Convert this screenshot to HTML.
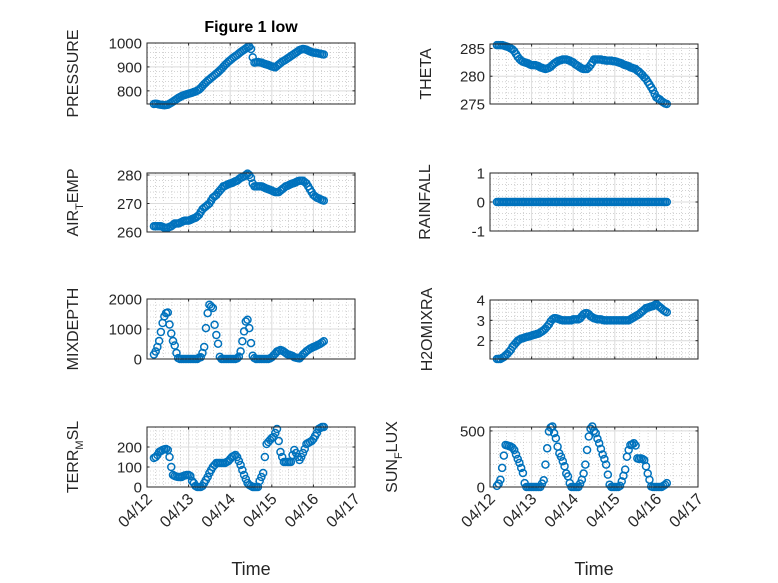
<!DOCTYPE html>
<html><head><meta charset="utf-8"><style>
body{margin:0;background:#fff}
svg{display:block;font-family:"Liberation Sans","DejaVu Sans",sans-serif}
</style></head><body>
<svg id="fig" width="778" height="583" viewBox="0 0 778 583">
<rect width="778" height="583" fill="#fff"/>
<text x="251" y="32" text-anchor="middle" font-size="16" font-weight="bold" fill="#000">Figure 1 low</text>
</svg>
<script>
const startHour=4, stepHour=1;
const xTickLabels=["04/12","04/13","04/14","04/15","04/16","04/17"];
const pressure=[745,746,745,743,742,741,740,741,742,746,
750,755,760,765,770,774,778,781,783,786,
788,790,792,795,797,801,805,812,820,828,
835,842,848,854,860,866,872,878,885,892,
900,908,915,922,928,934,940,945,950,956,
962,967,972,977,982,985,975,940,918,919,
920,919,918,915,912,910,908,905,902,900,
898,904,910,916,922,926,930,935,940,945,
950,955,960,965,970,973,975,974,972,968,
965,962,960,959,958,956,955,953,952];
const theta=[285.6,285.6,285.6,285.6,285.5,285.4,285.3,285.2,285.0,284.8,
284.5,284.0,283.5,283.1,282.8,282.6,282.5,282.4,282.3,282.1,
282.0,282.0,282.0,281.9,281.8,281.6,281.5,281.4,281.3,281.4,
281.5,281.7,282.0,282.3,282.5,282.7,282.8,282.9,283.0,283.0,
283.0,282.9,282.8,282.6,282.5,282.2,282.0,281.8,281.6,281.4,
281.3,281.3,281.3,281.6,282.0,282.5,283.0,283.0,283.0,283.0,
283.0,282.9,282.9,282.8,282.8,282.8,282.8,282.7,282.7,282.6,
282.5,282.4,282.3,282.1,282.0,281.9,281.8,281.6,281.5,281.4,
281.3,281.0,280.8,280.5,280.2,279.8,279.5,279.0,278.5,278.0,
277.5,276.8,276.2,276.0,275.8,275.5,275.3,275.1,275.0];
const airTemp=[262,262,262,262,262,261.8,261.5,261.5,261.5,261.8,
262,262.5,263,263,263,263.2,263.5,263.8,264,264,
264,264.2,264.5,264.8,265,265.5,266,267,268,268.5,
269,269.5,270,271,272,272.5,273,273.8,274.5,275.2,
276,276.2,276.5,276.8,277,277.2,277.5,277.8,278,278.5,
279,279.2,279.5,280,280.5,280,279,277,276,276,
276,276,276,275.8,275.5,275.2,275,274.8,274.5,274.2,
274,274,274,274.5,275,275.5,276,276.2,276.5,276.8,
277,277.2,277.5,277.8,278,278,278,277.5,277,276,
275,274,273,272.5,272,271.8,271.5,271.2,271];
const rainfall=[0,0,0,0,0,0,0,0,0,0, 0,0,0,0,0,0,0,0,0,0, 0,0,0,0,0,0,0,0,0,0, 0,0,0,0,0,0,0,0,0,0, 0,0,0,0,0,0,0,0,0,0, 0,0,0,0,0,0,0,0,0,0, 0,0,0,0,0,0,0,0,0,0, 0,0,0,0,0,0,0,0,0,0, 0,0,0,0,0,0,0,0,0,0, 0,0,0,0,0,0,0,0,0];
const mixDepth=[150,250,400,600,900,1200,1420,1530,1550,1150,
850,600,450,200,30,0,0,0,0,0,
0,0,0,0,0,0,40,60,200,400,
1030,1530,1810,1750,1700,1140,800,510,70,0,
0,0,0,0,0,0,0,0,20,80,
255,590,920,1250,1310,1030,530,110,30,0,
0,0,0,0,0,0,0,20,60,120,
180,250,270,300,280,240,200,160,140,120,
100,60,40,30,20,80,150,200,260,300,
340,370,400,420,450,480,510,550,590];
const h2oMix=[1.1,1.1,1.1,1.15,1.2,1.28,1.35,1.45,1.55,1.7,
1.8,1.9,2.0,2.05,2.1,2.12,2.15,2.18,2.2,2.22,
2.25,2.28,2.3,2.33,2.35,2.4,2.45,2.52,2.6,2.7,
2.8,2.95,3.05,3.1,3.1,3.08,3.05,3.02,3.0,3.0,
3.0,3.0,3.0,3.0,3.05,3.05,3.05,3.05,3.1,3.2,
3.3,3.35,3.35,3.3,3.2,3.15,3.1,3.08,3.05,3.05,
3.05,3.02,3.0,3.0,3.0,3.0,3.0,3.0,3.0,3.0,
3.0,3.0,3.0,3.0,3.0,3.0,3.0,3.05,3.1,3.15,
3.2,3.25,3.3,3.38,3.45,3.52,3.6,3.62,3.65,3.68,
3.7,3.75,3.8,3.72,3.65,3.58,3.5,3.45,3.4];
const terrMsl=[145,150,160,175,180,185,188,190,185,150,
100,60,55,52,50,50,50,55,58,60,
60,55,30,20,5,0,0,0,5,20,
35,50,70,85,100,110,120,120,120,120,
120,120,125,130,140,150,155,160,150,130,
110,85,60,40,20,10,5,0,0,0,
0,30,50,70,150,215,225,235,245,250,
270,290,230,175,150,125,125,125,125,125,
160,185,170,150,135,150,170,190,215,220,
225,230,240,255,270,290,295,300,300];
const sunFlux=[10,30,65,170,280,375,370,365,360,350,
330,290,250,215,170,125,35,0,0,0,
0,0,0,0,0,0,30,60,200,345,
495,530,540,480,435,360,300,270,230,185,
120,95,35,0,0,0,0,0,30,65,
120,200,330,450,520,540,500,480,430,390,
340,290,250,200,110,20,0,0,0,0,
0,10,50,100,155,270,330,375,380,390,
370,255,250,255,250,240,185,120,65,5,
0,0,0,0,0,0,10,20,35];
const pressureTicks=[800,900,1000], thetaTicks=[275,280,285], airTicks=[260,270,280], rainTicks=[-1,0,1], mixTicks=[0,1000,2000], h2oTicks=[2,3,4], terrTicks=[0,100,200], sunTicks=[0,500];

const NS="http://www.w3.org/2000/svg";
const svg=document.getElementById('fig');
function mk(tag,attrs,parent){const e=document.createElementNS(NS,tag);for(const k in attrs)e.setAttribute(k,attrs[k]);(parent||svg).appendChild(e);return e;}

const panels=[
 {key:'pressure',label:['PRESSURE'],data:pressure,ticks:pressureTicks,dom:[745,1000],x0:147,y0:43,y1:104,lx:78,bottom:false},
 {key:'theta',label:['THETA'],data:theta,ticks:thetaTicks,dom:[275,285.8],x0:490,y0:44,y1:104,lx:431,bottom:false},
 {key:'air-temp',label:['AIR','T','EMP'],data:airTemp,ticks:airTicks,dom:[260,280.7],x0:147,y0:173,y1:232,lx:78,bottom:false},
 {key:'rainfall',label:['RAINFALL'],data:rainfall,ticks:rainTicks,dom:[-1,1],x0:490,y0:173,y1:231,lx:430,bottom:false},
 {key:'mixdepth',label:['MIXDEPTH'],data:mixDepth,ticks:mixTicks,dom:[0,2000],x0:147,y0:299,y1:359,lx:78,bottom:false},
 {key:'h2omixra',label:['H2OMIXRA'],data:h2oMix,ticks:h2oTicks,dom:[1.1,4],x0:490,y0:300,y1:359,lx:432,bottom:false},
 {key:'terr-msl',label:['TERR','M','SL'],data:terrMsl,ticks:terrTicks,dom:[0,300],x0:147,y0:427,y1:487,lx:78,bottom:true},
 {key:'sun-flux',label:['SUN','F','LUX'],data:sunFlux,ticks:sunTicks,dom:[0,535],x0:490,y0:427,y1:487,lx:397,bottom:true}
];
const W=208, XMAX=120;
panels.forEach(p=>{
  const g=mk('g',{});
  
  
  const xs=h=>p.x0+h/XMAX*W;
  const ys=v=>p.y1-(v-p.dom[0])/(p.dom[1]-p.dom[0])*(p.y1-p.y0);
  const H=p.y1-p.y0;
  mk('rect',{x:p.x0,y:p.y0,width:W,height:H,fill:'#fff'},g);
  for(let d=0;d<5;d++)for(let m=1;m<5;m++){const x=xs(d*24+m*24/5);mk('line',{x1:x,x2:x,y1:p.y0,y2:p.y1,stroke:'#b8b8b8','stroke-width':0.6,'stroke-dasharray':'1 2'},g);}
  const minorStep=(p.ticks[1]-p.ticks[0])/5;
  for(let v=p.ticks[0]-10*minorStep;v<=p.dom[1];v+=minorStep){if(v<p.dom[0])continue;const y=ys(v);mk('line',{x1:p.x0,x2:p.x0+W,y1:y,y2:y,stroke:'#b8b8b8','stroke-width':0.6,'stroke-dasharray':'1 2'},g);}
  xTickLabels.forEach((t,i)=>{const x=xs(i*24);mk('line',{x1:x,x2:x,y1:p.y0,y2:p.y1,stroke:'#dcdcdc','stroke-width':1},g);});
  p.ticks.forEach(v=>{const y=ys(v);mk('line',{x1:p.x0,x2:p.x0+W,y1:y,y2:y,stroke:'#dcdcdc','stroke-width':1},g);});
  xTickLabels.forEach((t,i)=>{const x=xs(i*24);mk('line',{x1:x,x2:x,y1:p.y1,y2:p.y1-2.5,stroke:'#262626'},g);mk('line',{x1:x,x2:x,y1:p.y0,y2:p.y0+2.5,stroke:'#262626'},g);});
  p.ticks.forEach(v=>{const y=ys(v);mk('line',{x1:p.x0,x2:p.x0+2.5,y1:y,y2:y,stroke:'#262626'},g);mk('line',{x1:p.x0+W,x2:p.x0+W-2.5,y1:y,y2:y,stroke:'#262626'},g);
    const t=mk('text',{x:p.x0-5,y:y+5.5,'text-anchor':'end','font-size':15,fill:'#262626'},g);t.textContent=v;
    
    });
  p.data.forEach((v,i)=>{const c=mk('circle',{cx:xs(startHour+i*stepHour),cy:ys(v),r:3.5,fill:'none',stroke:'#0072BD','stroke-width':1.5},g);
    
    });
  mk('rect',{x:p.x0,y:p.y0,width:W,height:H,fill:'none',stroke:'#262626','stroke-width':1},g);
  const cy=(p.y0+p.y1)/2;
  const lab=mk('text',{transform:`translate(${p.lx},${cy}) rotate(-90)`,'text-anchor':'middle','font-size':16,fill:'#262626'},g);
  
  
  if(p.label.length===1){lab.textContent=p.label[0];}
  else{const a=mk('tspan',{},lab);a.textContent=p.label[0];const b=mk('tspan',{'font-size':11,dy:5},lab);b.textContent=p.label[1];const c=mk('tspan',{dy:-5},lab);c.textContent=p.label[2];}
  if(p.bottom){
    xTickLabels.forEach((t,i)=>{const x=xs(i*24)+6;const y=p.y1+13;
      const tx=mk('text',{transform:`translate(${x},${y}) rotate(-45)`,'text-anchor':'end','font-size':16,fill:'#262626'},g);tx.textContent=t;
      
      });
    const xl=mk('text',{x:p.x0+W/2,y:575,'text-anchor':'middle','font-size':18,fill:'#262626'},g);xl.textContent='Time';
    
    
  }
});
</script>
</body></html>
